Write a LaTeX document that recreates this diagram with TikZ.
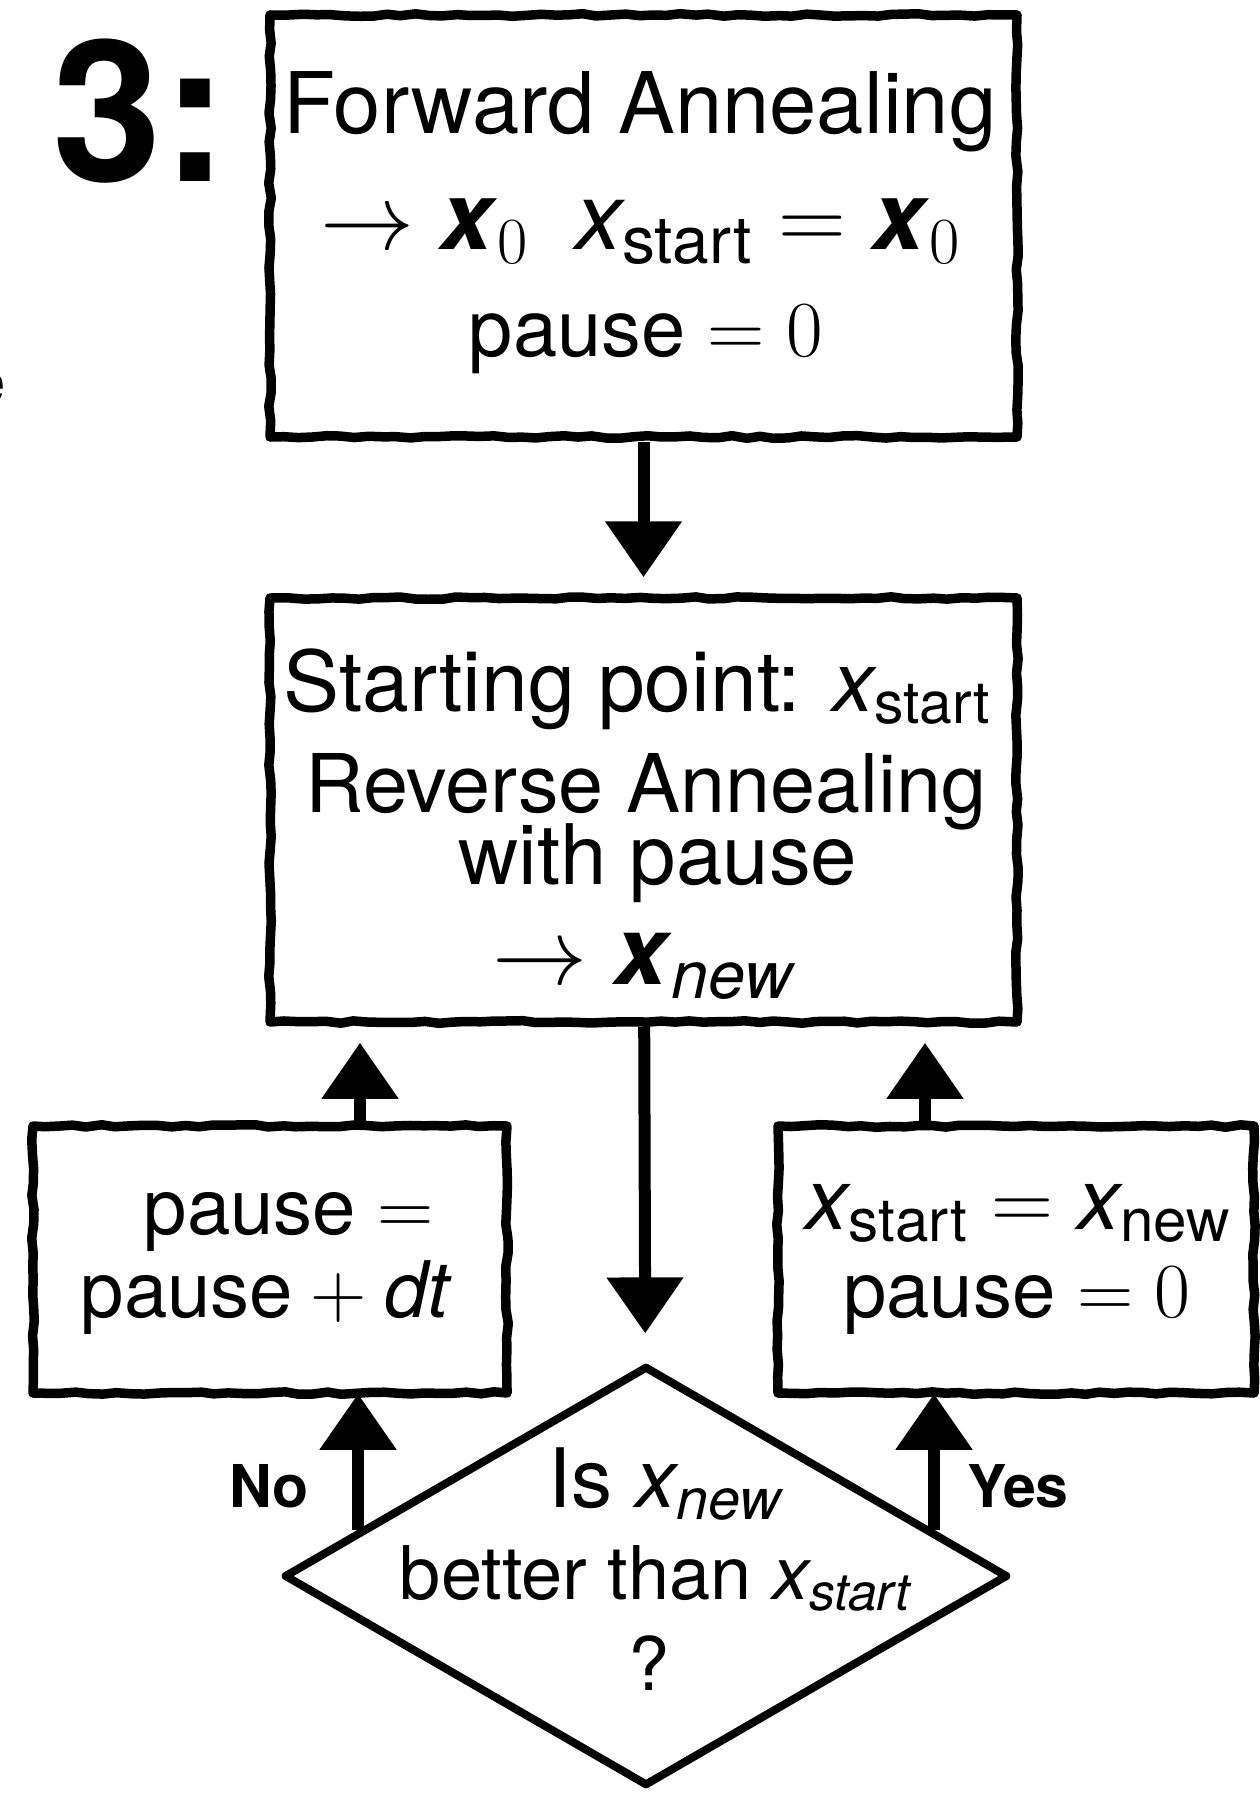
\RequirePackage{fix-cm}
\documentclass[tikz,border=0pt]{standalone}
\usepackage{amsmath}
\usepackage[no-math]{fontspec}
\setmainfont{TeX Gyre Heros}
\usetikzlibrary{arrows.meta,shapes.geometric,decorations.pathmorphing}
\newcommand\fsz[1]{\fontsize{#1}{#1}\selectfont}
\tikzset{
  rough/.style={decorate, decoration={random steps, segment length=14pt, amplitude=1.3pt}},
  boxsty/.style={draw=black, line width=9.5pt, line join=round, rough, inner sep=0pt, fill=white},
  dsty/.style={diamond, draw=black, line width=8pt, line join=round, inner sep=0pt, fill=white},
  txt/.style={anchor=base, inner sep=0pt, font=\fsz{78}},
  dtxt/.style={anchor=base, inner sep=0pt, font=\fsz{74}},
  lbl/.style={anchor=base, inner sep=0pt, font=\fsz{59}\bfseries},
  arr/.style={line width=12pt, -{Triangle[width=74pt,length=56pt]}},
}
\begin{document}
\begin{tikzpicture}[x=1pt,y=-1pt]
\pgfmathsetseed{7}
\useasboundingbox (0,0) rectangle (1259,1793);

% cut-off heading on the left
\node[anchor=base west, inner sep=0pt, font=\fsz{197}\bfseries] (head) at (-80,181) {t\hspace{0.342em}3:};
\node[anchor=base east, inner sep=0pt, font=\fsz{60}] (frag) at (6,403) {e};

% boxes
\node[boxsty, minimum width=747pt, minimum height=422pt] (fa) at (643.5,226) {};
\node[boxsty, minimum width=747pt, minimum height=424pt] (ra) at (643.5,810) {};
\node[boxsty, minimum width=474pt, minimum height=267pt] (inc) at (270,1259.5) {};
\node[boxsty, minimum width=476pt, minimum height=267pt] (upd) at (1016,1259.5) {};
\node[dsty, minimum width=724pt, minimum height=420pt] (dec) at (646,1576) {};

% texts
\node[txt, font=\fsz{85}] (fa1) at (640,133) {Forward Annealing};
\node[txt, font=\fsz{94}] (fa2) at (640,249) {$\rightarrow \textbf{\textit{x}}_0\hspace{0.5em}\textit{x}_{\text{start}} = \textbf{\textit{x}}_0$};
\node[txt, font=\fsz{79.5}] (fa3) at (646,356) {$\text{pause} = 0$};

\node[txt, font=\fsz{84}] (ra1) at (637,711) {Starting point: $\textit{x}_{\text{start}}$};
\node[txt, font=\fsz{81}] (ra2) at (646,812) {Reverse Annealing};
\node[txt, font=\fsz{83.5}] (ra3) at (658,884) {with pause};
\node[txt, font=\fsz{95}] (ra4) at (643,984) {$\rightarrow \textbf{\textit{x}}_{\textit{new}}$};

\node[txt] (inc1) at (289,1234) {$\text{pause} =$};
\node[txt] (inc2) at (265,1317) {$\text{pause} + \textit{dt}$};

\node[txt, font=\fsz{86}] (upd1) at (1018,1229) {$\textit{x}_{\text{start}} = \textit{x}_{\text{new}}$};
\node[txt] (upd2) at (1017,1317) {$\text{pause} = 0$};

\node[dtxt, font=\fsz{82}] (dq1) at (665,1507) {Is $\textit{x}_{\textit{new}}$};
\node[dtxt] (dq2) at (655,1599) {better than $\textit{x}_{\textit{start}}$};
\node[dtxt] (dq3) at (649,1690) {?};

\node[lbl] (no) at (269,1507) {No};
\node[lbl] (yes) at (1018,1507) {Yes};

% connectors
\draw[arr, shorten >=16pt] (fa) -- (ra);
\draw[arr, shorten >=29pt] (ra) -- (dec);
\coordinate (lx) at (360,0);
\coordinate (rx) at (925,0);
\draw[arr, shorten >=16pt] (inc.north -| lx) -- (ra.south -| lx);
\draw[arr, shorten >=16pt] (upd.north -| rx) -- (ra.south -| rx);
\draw[arr, shorten >=-4pt] (dec.171.25) -- (dec.171.25 |- inc.south);
\draw[arr, shorten >=-4pt] (dec.9.76) -- (dec.9.76 |- upd.south);
\end{tikzpicture}
\end{document}
